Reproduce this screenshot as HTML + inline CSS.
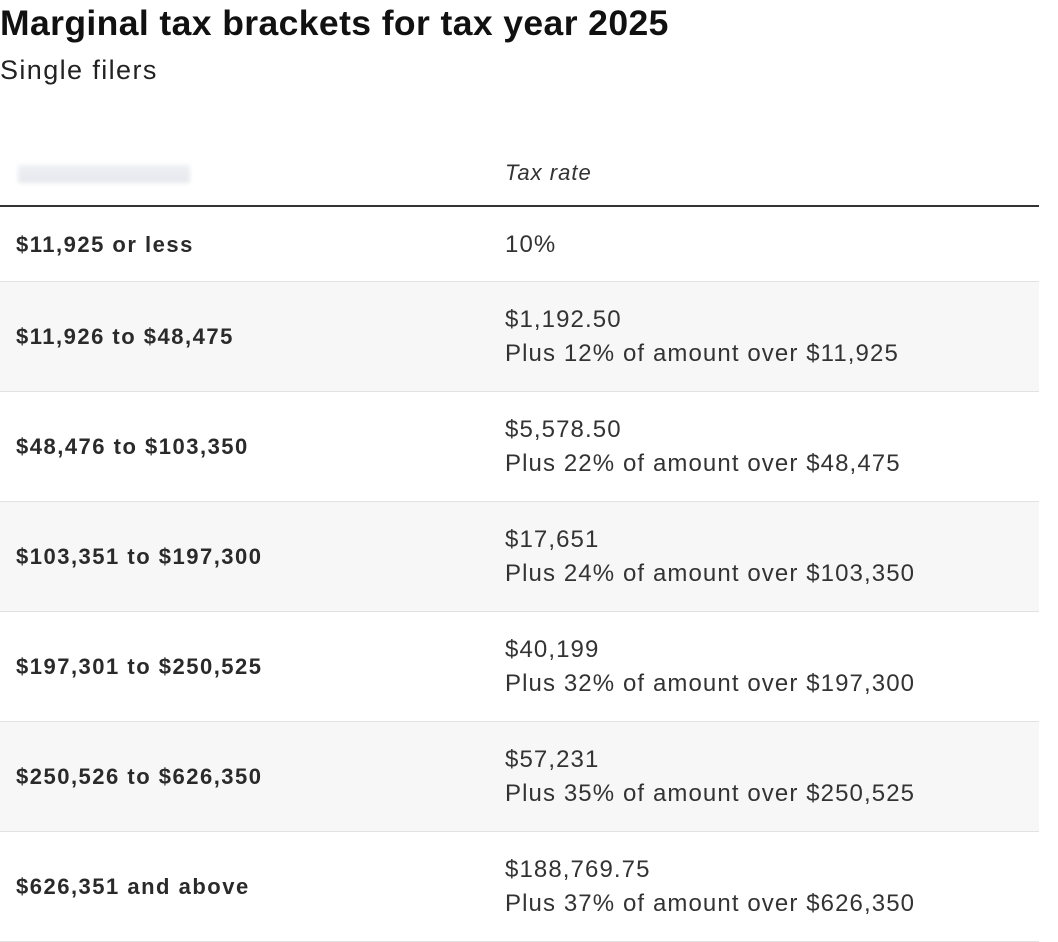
<!DOCTYPE html>
<html><head><meta charset="utf-8">
<style>
body{margin:0;width:1058px;height:928px;background:#fff;font-family:"Liberation Sans",sans-serif;color:#222;position:relative;overflow:hidden}
.t{position:absolute;left:0;top:3px;font-size:35.5px;font-weight:bold;color:#111;white-space:nowrap;letter-spacing:0.4px}
.s{position:absolute;left:0;top:55px;font-size:27px;color:#222;letter-spacing:1.4px}
.hdr{position:absolute;left:505px;top:160px;font-size:22px;font-style:italic;color:#333;letter-spacing:1px}
.blur{position:absolute;left:18px;top:165px;width:172px;height:18px;background:linear-gradient(#eef0f3,#e6e9ee);filter:blur(2px)}
.hline{position:absolute;left:0;top:205px;width:1039px;height:2px;background:#333}
.row{position:absolute;left:0;width:1039px;border-bottom:1px solid #e2e2e2;box-sizing:border-box}
.l{position:absolute;left:16px;font-size:22px;font-weight:bold;color:#2a2a2a;letter-spacing:1.5px;white-space:nowrap}
.r{position:absolute;left:505px;font-size:24px;color:#333;line-height:34px;letter-spacing:1.1px;white-space:nowrap}
</style></head><body>
<div class="t">Marginal tax brackets for tax year 2025</div>
<div class="s">Single filers</div>
<div class="blur"></div>
<div class="hdr">Tax rate</div>
<div class="hline"></div>
<div id="tbl"></div>
<script>
const brackets=["$11,925 or less","$11,926 to $48,475","$48,476 to $103,350","$103,351 to $197,300","$197,301 to $250,525","$250,526 to $626,350","$626,351 and above"];
const baseTax=["10%","$1,192.50","$5,578.50","$17,651","$40,199","$57,231","$188,769.75"];
const rates=["","12%","22%","24%","32%","35%","37%"];
const overAmt=["","$11,925","$48,475","$103,350","$197,300","$250,525","$626,350"];
const tbl=document.getElementById('tbl');
let y=207;
for(let i=0;i<brackets.length;i++){
  const h=i===0?75:110;
  const row=document.createElement('div');
  
  
  row.className='row';
  row.style.top=y+'px';row.style.height=h+'px';
  row.style.background=(i%2===1)?'#f7f7f7':'#fff';
  const l=document.createElement('div');
  
  
  l.className='l';l.textContent=brackets[i];
  l.style.top=(h/2-13)+'px';
  row.appendChild(l);
  const r=document.createElement('div');
  
  
  r.className='r';
  if(rates[i]){
    r.innerHTML=baseTax[i]+'<br>Plus '+rates[i]+' of amount over '+overAmt[i];
    r.style.top=(h/2-34)+'px';
  }else{r.textContent=baseTax[i];r.style.top=(h/2-17)+'px';}
  row.appendChild(r);
  tbl.appendChild(row);
  y+=h;
}
</script>
</body></html>
